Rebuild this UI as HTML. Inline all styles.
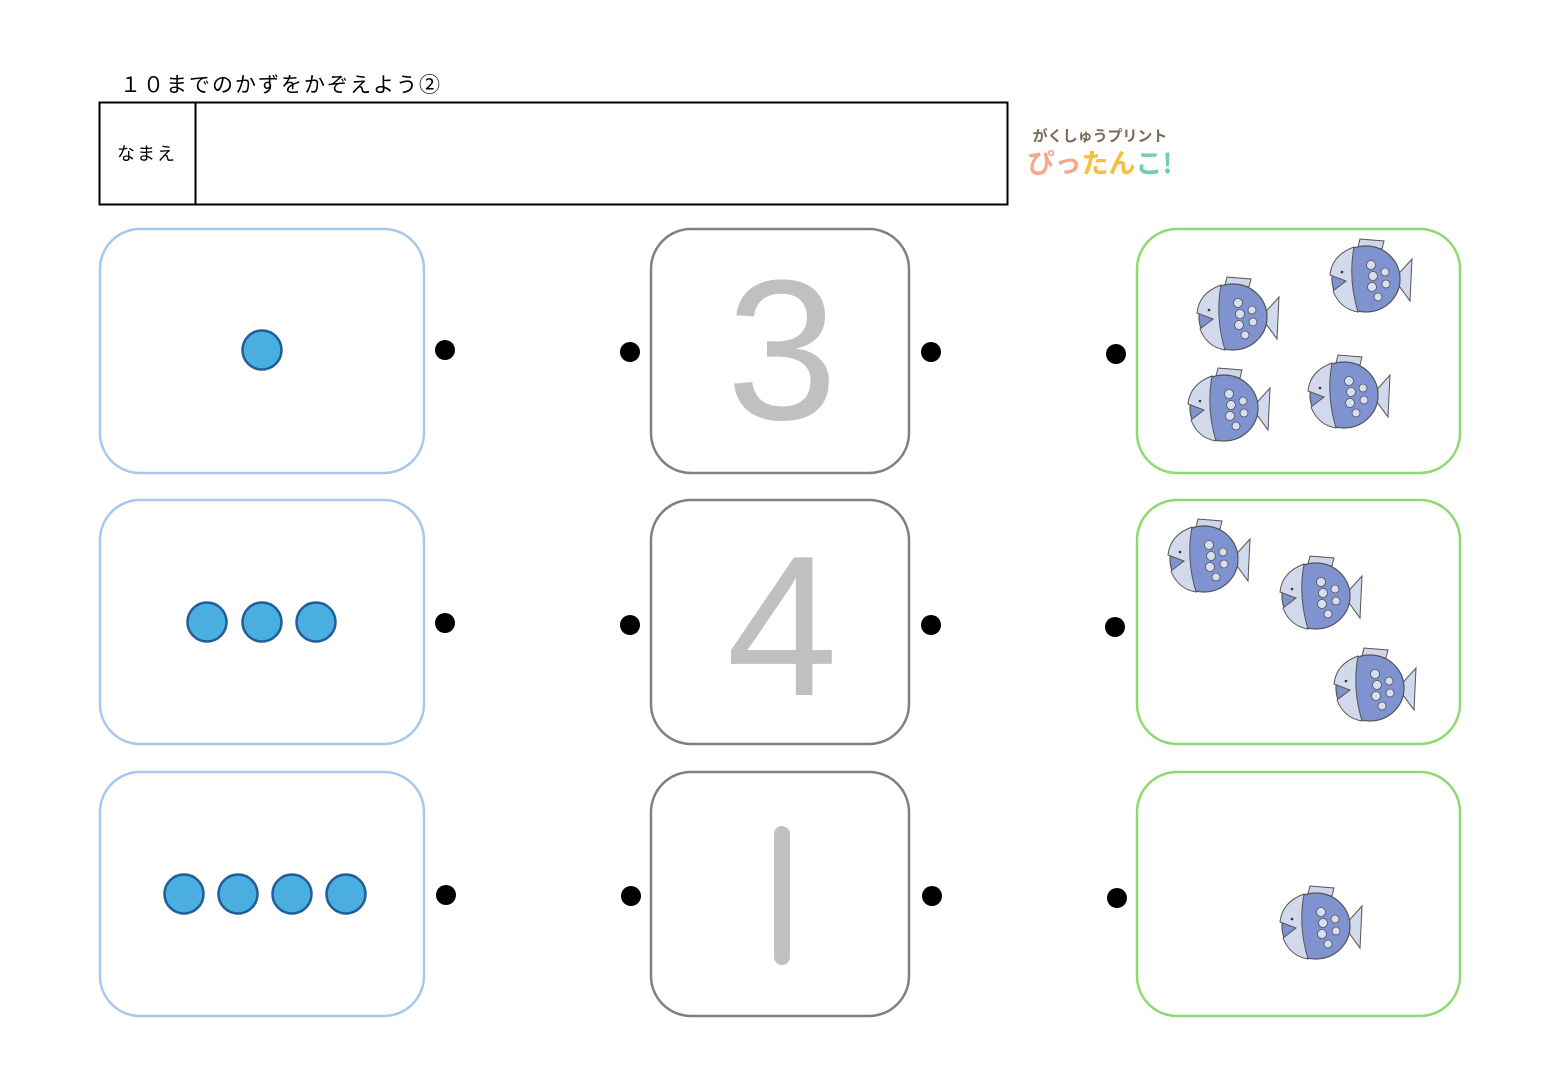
<!DOCTYPE html>
<html><head><meta charset="utf-8"><style>
html,body{margin:0;padding:0;background:#fff;}
svg{display:block;}
</style></head><body>
<svg width="1560" height="1080" viewBox="0 0 1560 1080" xmlns="http://www.w3.org/2000/svg">
<defs>
<g id="fish">
  <path d="M30 8 L32 0 L56 2 L54 10 Z" fill="#cfd6ea" stroke="#555" stroke-width="1"/>
  <path d="M66 40 L84 20 L82 62 Z" fill="#d3d9ec" stroke="#555" stroke-width="1"/>
  <ellipse cx="38" cy="40" rx="34" ry="33" fill="#7f93d0" stroke="#555" stroke-width="1.2"/>
  <path d="M26 8 Q4 16 2 36 L18 42 L5 52 Q12 70 30 73 Q20 40 26 8 Z" fill="#d2d9ec" stroke="#555" stroke-width="1"/>
  <circle cx="14" cy="33" r="1.3" fill="#333"/>
  <g fill="#d8def0" stroke="#555" stroke-width="0.8">
    <circle cx="43" cy="26" r="4.5"/><circle cx="45" cy="37" r="4.5"/><circle cx="44" cy="48" r="4.5"/>
    <circle cx="57" cy="33" r="4"/><circle cx="58" cy="45" r="4"/><circle cx="50" cy="58" r="4"/>
  </g>
</g>
</defs>
<text x="120" y="92" font-family="Liberation Sans, Noto Sans CJK JP, sans-serif" font-size="21" fill="#000" letter-spacing="2">１０までのかずをかぞえよう②</text>
<rect x="99.5" y="102.5" width="908" height="102" fill="none" stroke="#000" stroke-width="2"/>
<line x1="195.5" y1="102" x2="195.5" y2="205" stroke="#000" stroke-width="2"/>
<text x="147" y="160" text-anchor="middle" font-family="Liberation Sans, Noto Sans CJK JP, sans-serif" font-size="18" fill="#000" letter-spacing="2">なまえ</text>
<text x="1100" y="141" text-anchor="middle" font-family="Noto Sans CJK JP, sans-serif" font-weight="bold" font-size="15" fill="#7a6a55">がくしゅうプリント</text>
<text x="1100" y="173" text-anchor="middle" font-family="Noto Sans CJK JP, sans-serif" font-weight="bold" font-size="27" fill="#f5a88a">ぴっ<tspan fill="#f5c040">たん</tspan><tspan fill="#6fd0b0">こ!</tspan></text>

<g fill="#fff" stroke-width="2.5">
<rect x="100" y="229" width="324" height="244" rx="40" stroke="#a6c8ec"/>
<rect x="100" y="500" width="324" height="244" rx="40" stroke="#a6c8ec"/>
<rect x="100" y="772" width="324" height="244" rx="40" stroke="#a6c8ec"/>
<rect x="651" y="229" width="258" height="244" rx="40" stroke="#808080"/>
<rect x="651" y="500" width="258" height="244" rx="40" stroke="#808080"/>
<rect x="651" y="772" width="258" height="244" rx="40" stroke="#808080"/>
<rect x="1137" y="229" width="323" height="244" rx="40" stroke="#90d870"/>
<rect x="1137" y="500" width="323" height="244" rx="40" stroke="#90d870"/>
<rect x="1137" y="772" width="323" height="244" rx="40" stroke="#90d870"/>
</g>

<g fill="#4aaee0" stroke="#1f5e99" stroke-width="2.5">
<circle cx="262" cy="350" r="19.5"/>
<circle cx="207" cy="622" r="19.5"/><circle cx="262" cy="622" r="19.5"/><circle cx="316" cy="622" r="19.5"/>
<circle cx="184" cy="894" r="19.5"/><circle cx="238" cy="894" r="19.5"/><circle cx="292" cy="894" r="19.5"/><circle cx="346" cy="894" r="19.5"/>
</g>

<g fill="#000">
<circle cx="445" cy="350" r="10"/><circle cx="630" cy="352" r="10"/><circle cx="931" cy="352" r="10"/><circle cx="1116" cy="354" r="10"/>
<circle cx="445" cy="623" r="10"/><circle cx="630" cy="625" r="10"/><circle cx="931" cy="625" r="10"/><circle cx="1115" cy="627" r="10"/>
<circle cx="446" cy="895" r="10"/><circle cx="631" cy="896" r="10"/><circle cx="932" cy="896" r="10"/><circle cx="1117" cy="898" r="10"/>
</g>

<g font-family="Liberation Sans, sans-serif" font-size="200" fill="#c0c0c0" text-anchor="middle">
<text x="782" y="419">3</text>
<text x="782" y="695">4</text>
</g>
<line x1="782" y1="834" x2="782" y2="957" stroke="#c0c0c0" stroke-width="16" stroke-linecap="round"/>

<use href="#fish" x="1195" y="277"/>
<use href="#fish" x="1328" y="239"/>
<use href="#fish" x="1186" y="368"/>
<use href="#fish" x="1306" y="355"/>
<use href="#fish" x="1166" y="519"/>
<use href="#fish" x="1278" y="556"/>
<use href="#fish" x="1332" y="648"/>
<use href="#fish" x="1278" y="886"/>
</svg>
</body></html>
